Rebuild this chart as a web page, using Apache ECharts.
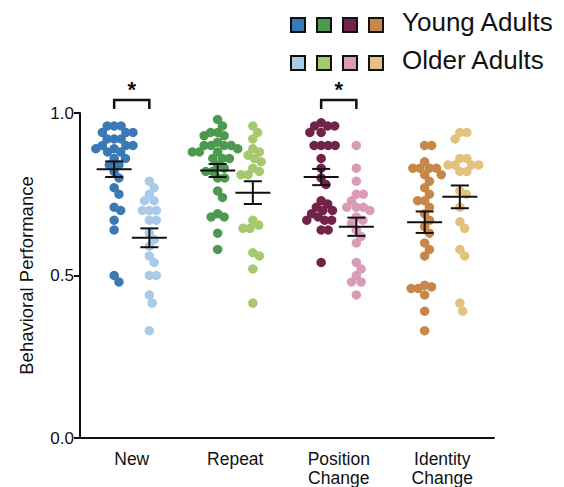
<!DOCTYPE html>
<html><head><meta charset="utf-8">
<script src="https://cdn.jsdelivr.net/npm/echarts@6/dist/echarts.min.js"></script>
<style>html,body{margin:0;padding:0;background:#fff}#c{width:564px;height:487px}</style>
</head><body><div id="c"></div>
<script>
// ---- data ----
const categories = ['New', 'Repeat', 'Position\nChange', 'Identity\nChange'];
const yTickValues = [0, 0.5, 1.0];
const legendLabels = ['Young Adults', 'Older Adults'];
const yAxisTitle = 'Behavioral Performance';

const youngNew = [0.96,0.96,0.96,0.94,0.94,0.94,0.92,0.92,0.92,0.90,0.90,0.90,0.89,0.89,0.88,0.88,0.86,0.86,0.84,0.84,0.82,0.80,0.77,0.75,0.71,0.70,0.67,0.64,0.50,0.48];
const olderNew = [0.79,0.77,0.75,0.73,0.73,0.70,0.70,0.70,0.67,0.67,0.63,0.61,0.59,0.56,0.54,0.50,0.50,0.44,0.415,0.33];
const youngRepeat = [0.98,0.96,0.94,0.94,0.93,0.93,0.91,0.90,0.90,0.90,0.90,0.89,0.88,0.88,0.88,0.86,0.86,0.86,0.84,0.83,0.82,0.82,0.80,0.80,0.76,0.74,0.69,0.68,0.68,0.63,0.58];
const olderRepeat = [0.96,0.94,0.92,0.89,0.88,0.87,0.86,0.85,0.83,0.82,0.81,0.81,0.67,0.655,0.645,0.645,0.57,0.56,0.52,0.415];
const youngPosition = [0.97,0.96,0.96,0.96,0.94,0.94,0.90,0.90,0.90,0.90,0.86,0.83,0.80,0.78,0.73,0.72,0.71,0.70,0.70,0.69,0.68,0.67,0.67,0.67,0.64,0.64,0.54];
const olderPosition = [0.90,0.83,0.79,0.75,0.75,0.73,0.71,0.71,0.71,0.70,0.68,0.67,0.66,0.64,0.62,0.60,0.54,0.52,0.50,0.48,0.48,0.44];
const youngIdentity = [0.90,0.90,0.85,0.83,0.83,0.83,0.83,0.81,0.81,0.79,0.77,0.75,0.73,0.73,0.71,0.69,0.67,0.65,0.63,0.60,0.58,0.56,0.46,0.46,0.465,0.47,0.44,0.39,0.33];
const olderIdentity = [0.94,0.94,0.92,0.86,0.86,0.84,0.84,0.84,0.84,0.82,0.82,0.76,0.75,0.71,0.665,0.645,0.58,0.56,0.415,0.39];

const youngMeans = [0.827, 0.823, 0.803, 0.664];
const youngSems  = [0.024, 0.020, 0.025, 0.033];
const olderMeans = [0.616, 0.755, 0.650, 0.742];
const olderSems  = [0.029, 0.035, 0.028, 0.035];

const significantCategories = [0, 2];

const youngColors = ['#3b79b6', '#4c9a4f', '#72234a', '#c8874a'];
const olderColors = ['#a9cbe7', '#a6c86f', '#d99bb8', '#e5c17f'];

// ---- layout ----
const W = 564, H = 487;
const gridL = 80, gridR = 70, gridT = 113, gridB = 46;
const plotW = W - gridL - gridR, plotH = H - gridT - gridB;
const pxPerUnit = plotW / categories.length;
const groupOffset = 0.17;
const DOT = 9.5, DX = 7, DY = 9;

function swarm(values, center) {
  const order = values.map((v, i) => i).sort((a, b) => values[b] - values[a]);
  const placed = [];
  const out = [];
  order.forEach(i => {
    const y = values[i] * plotH;
    const cands = [0];
    placed.forEach(p => {
      const dy = Math.abs(p.y - y);
      if (dy < DY) {
        const dx = DX * Math.sqrt(1 - (dy / DY) * (dy / DY));
        cands.push(p.x + dx, p.x - dx);
      }
    });
    cands.sort((a, b) => Math.abs(a) - Math.abs(b));
    const ok = c => placed.every(p => {
      const ex = (p.x - c) / DX, ey = (p.y - y) / DY;
      return ex * ex + ey * ey >= 0.999;
    });
    const x = cands.find(ok);
    placed.push({ x, y });
    out.push([center + x / pxPerUnit, values[i]]);
  });
  return out;
}

const youngSets = [youngNew, youngRepeat, youngPosition, youngIdentity];
const olderSets = [olderNew, olderRepeat, olderPosition, olderIdentity];

const series = [];
categories.forEach((c, i) => {
  series.push({
    type: 'scatter', xAxisIndex: 1, yAxisIndex: 0, symbolSize: DOT, z: 2,
    itemStyle: { color: youngColors[i], opacity: 1 },
    data: swarm(youngSets[i], i + 0.5 - groupOffset), silent: true
  });
  series.push({
    type: 'scatter', xAxisIndex: 1, yAxisIndex: 0, symbolSize: DOT, z: 2,
    itemStyle: { color: olderColors[i], opacity: 1 },
    data: swarm(olderSets[i], i + 0.5 + groupOffset), silent: true
  });
});

const statData = [];
categories.forEach((c, i) => {
  statData.push([i + 0.5 - groupOffset, youngMeans[i], youngSems[i]]);
  statData.push([i + 0.5 + groupOffset, olderMeans[i], olderSems[i]]);
});

series.push({
  type: 'custom', xAxisIndex: 1, yAxisIndex: 0, z: 5, silent: true,
  data: statData,
  renderItem: function (params, api) {
    const x = api.value(0), m = api.value(1), s = api.value(2);
    const pm = api.coord([x, m]), pt = api.coord([x, m + s]), pb = api.coord([x, m - s]);
    const st = { stroke: '#111', lineWidth: 2 };
    const halfMean = 17.5, halfCap = 9;
    return {
      type: 'group',
      children: [
        { type: 'line', shape: { x1: pm[0] - halfMean, y1: pm[1], x2: pm[0] + halfMean, y2: pm[1] }, style: st },
        { type: 'line', shape: { x1: pt[0], y1: pt[1], x2: pb[0], y2: pb[1] }, style: st },
        { type: 'line', shape: { x1: pt[0] - halfCap, y1: pt[1], x2: pt[0] + halfCap, y2: pt[1] }, style: st },
        { type: 'line', shape: { x1: pb[0] - halfCap, y1: pb[1], x2: pb[0] + halfCap, y2: pb[1] }, style: st }
      ]
    };
  }
});

series.push({
  type: 'custom', xAxisIndex: 1, yAxisIndex: 0, z: 5, silent: true, clip: false,
  data: significantCategories.map(i => [i + 0.5 - groupOffset, i + 0.5 + groupOffset]),
  renderItem: function (params, api) {
    const a = api.coord([api.value(0), 1.0]), b = api.coord([api.value(1), 1.0]);
    const top = a[1] - 13, bot = a[1] - 4;
    const st = { stroke: '#111', lineWidth: 2.5, fill: null };
    return {
      type: 'group',
      children: [
        { type: 'polyline', shape: { points: [[a[0], bot], [a[0], top], [b[0], top], [b[0], bot]] }, style: st },
        { type: 'text', style: { text: '*', x: (a[0] + b[0]) / 2, y: top - 22, textAlign: 'center', textVerticalAlign: 'top', fontSize: 22, fontWeight: 'bold', fontFamily: 'Liberation Sans', fill: '#111' } }
      ]
    };
  }
});

// legend graphic
const legendGraphics = [];
const sqX = [290, 316, 342, 368], rowY = [24, 62];
[youngColors, olderColors].forEach((cols, r) => {
  cols.forEach((col, k) => {
    legendGraphics.push({ type: 'rect', left: sqX[k], top: rowY[r] - 7, shape: { width: 14, height: 14 }, style: { fill: col, stroke: '#111', lineWidth: 2 } });
  });
  legendGraphics.push({ type: 'text', left: 402, top: rowY[r] - 15, style: { text: legendLabels[r], fontSize: 26, fontFamily: 'Liberation Sans', fill: '#111' } });
});

const chart = echarts.init(document.getElementById('c'), null, { renderer: 'svg' });
chart.setOption({
  backgroundColor: '#fff',
  animation: false,
  grid: { left: gridL, right: gridR, top: gridT, bottom: gridB, containLabel: false },
  xAxis: [
    {
      type: 'category', data: categories, boundaryGap: true,
      axisLine: { lineStyle: { color: '#111', width: 2 } },
      axisTick: { alignWithLabel: true, length: 6, lineStyle: { color: '#111', width: 2 } },
      axisLabel: { color: '#111', fontSize: 17.5, fontFamily: 'Liberation Sans', lineHeight: 19, margin: 11 }
    },
    { type: 'value', min: 0, max: categories.length, show: false }
  ],
  yAxis: {
    type: 'value', min: 0, max: 1, interval: 0.5,
    name: yAxisTitle, nameLocation: 'middle', nameGap: 44, nameRotate: 90,
    nameTextStyle: { color: '#111', fontSize: 18.5, fontFamily: 'Liberation Sans' },
    axisLine: { show: true, lineStyle: { color: '#111', width: 2 } },
    axisTick: { show: true, length: 6, lineStyle: { color: '#111', width: 2 } },
    axisLabel: { color: '#111', fontSize: 17, fontFamily: 'Liberation Sans', margin: 6, formatter: v => yTickValues.includes(v) ? v.toFixed(1) : '' },
    splitLine: { show: false }
  },
  graphic: legendGraphics,
  series: series
});
</script>
</body></html>
